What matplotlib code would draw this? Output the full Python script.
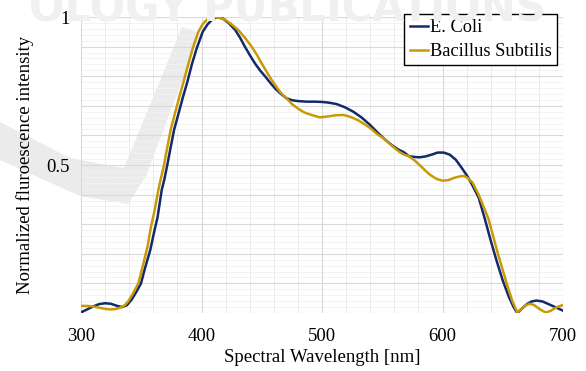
import matplotlib
matplotlib.use('Agg')
import matplotlib.pyplot as plt
from matplotlib.patches import Polygon
from matplotlib.ticker import MultipleLocator, FixedLocator

plt.rcParams['font.family'] = ['Liberation Serif', 'DejaVu Serif']

# E. Coli spectrum
wl_ecoli = [300, 305, 310, 315, 320, 325, 330, 334, 338, 342, 346, 349.8, 353,
            357.5, 360.5, 363.6, 367, 369.1, 371.6, 374, 377.2, 381, 384.5,
            388.2, 392, 396, 401, 405, 409, 413, 418, 423, 428, 432, 436, 440,
            444.4, 448.5, 452.7, 457, 461, 466, 470.7, 475, 480, 487, 494, 500,
            505, 512, 519, 526, 533, 540, 546, 552, 558, 563, 568, 572, 577, 581,
            586, 591, 596, 601, 606, 611, 616, 621, 625, 630, 635, 640, 645, 650,
            655, 659, 662, 666, 670, 674, 678, 683, 688, 694, 700]
int_ecoli = [0.002, 0.012, 0.022, 0.030, 0.033, 0.031, 0.024, 0.020, 0.026, 0.045,
             0.072, 0.100, 0.150, 0.213, 0.270, 0.325, 0.416, 0.450, 0.500, 0.551,
             0.618, 0.675, 0.728, 0.780, 0.840, 0.894, 0.950, 0.975, 0.992, 1.000,
             0.994, 0.978, 0.956, 0.930, 0.900, 0.872, 0.843, 0.820, 0.800, 0.778,
             0.759, 0.740, 0.725, 0.719, 0.716, 0.714, 0.714, 0.713, 0.711, 0.706,
             0.695, 0.680, 0.660, 0.635, 0.610, 0.587, 0.567, 0.553, 0.543, 0.530,
             0.527, 0.526, 0.529, 0.535, 0.542, 0.542, 0.535, 0.518, 0.490, 0.460,
             0.430, 0.390, 0.320, 0.245, 0.175, 0.110, 0.055, 0.020, 0.000, 0.015,
             0.030, 0.039, 0.042, 0.039, 0.030, 0.019, 0.008]

# Bacillus Subtilis spectrum
wl_bsub = [300, 305, 310, 315, 320, 324, 328, 332, 336, 339.3, 343, 347.6, 351,
           355.3, 358, 361, 364.2, 366.5, 368.9, 371.2, 374.4, 378, 381.5, 385,
           389, 392.7, 397.4, 401, 405, 410, 415, 420, 425, 430.5, 436, 441.6,
           446, 450, 454, 458.3, 462, 465, 468, 470.7, 475, 480.3, 485, 491.4,
           498, 505, 511, 518, 524, 530, 534, 540, 545, 552, 558, 564, 568, 572,
           577, 581, 586, 590, 595, 600, 605, 610, 615, 618, 621.4, 625, 630, 634,
           638, 642, 646, 650, 654, 658, 662, 666, 669.5, 672.6, 676, 680, 684,
           686.5, 690, 695, 700]
int_bsub = [0.024, 0.024, 0.022, 0.018, 0.014, 0.012, 0.013, 0.017, 0.025, 0.040,
            0.065, 0.100, 0.155, 0.225, 0.290, 0.345, 0.416, 0.458, 0.500, 0.551,
            0.618, 0.675, 0.728, 0.780, 0.840, 0.894, 0.950, 0.976, 0.993, 1.000,
            0.997, 0.990, 0.975, 0.956, 0.930, 0.900, 0.872, 0.843, 0.815, 0.787,
            0.765, 0.748, 0.735, 0.725, 0.706, 0.690, 0.678, 0.669, 0.661, 0.664,
            0.668, 0.669, 0.662, 0.651, 0.641, 0.625, 0.607, 0.587, 0.565, 0.545,
            0.535, 0.530, 0.515, 0.500, 0.480, 0.466, 0.453, 0.447, 0.449, 0.457,
            0.462, 0.463, 0.455, 0.440, 0.400, 0.360, 0.320, 0.260, 0.200, 0.145,
            0.090, 0.040, 0.003, 0.015, 0.027, 0.031, 0.027, 0.015, 0.005, 0.002,
            0.008, 0.020, 0.027]

x_ticks = [300, 400, 500, 600, 700]
y_ticks = [0.5, 1]
y_tick_labels = ['0.5', '1']

W, H = 586, 371
fig = plt.figure(figsize=(W / 100, H / 100), dpi=100)
ax = fig.add_axes([81 / W, 1 - 313 / H, (563 - 81) / W, (313 - 17) / H])
ax.patch.set_alpha(0)

# faint publisher watermark behind the chart
fig.text(0.49, 1 - 21 / H, 'OLOGY PUBLICATIONS', ha='center', va='baseline',
         fontsize=30, fontweight='bold', color='#f0f0f0', family='DejaVu Sans',
         zorder=0)
swoosh_px = [(182, 27), (200, 33), (146, 176), (128, 204), (80, 196), (0, 160),
             (0, 122), (70, 158), (124, 168)]
fig.add_artist(Polygon([(x / W, 1 - y / H) for x, y in swoosh_px], closed=True,
                       transform=fig.transFigure, facecolor='#ebebeb',
                       edgecolor='none', zorder=0))

ax.plot(wl_ecoli, int_ecoli, color='#12296b', lw=1.8, label='E. Coli', zorder=3)
ax.plot(wl_bsub, int_bsub, color='#c99a06', lw=1.8, label='Bacillus Subtilis', zorder=3)

ax.set_xlim(300, 700)
ax.set_ylim(0, 1)
ax.xaxis.set_major_locator(FixedLocator(x_ticks))
ax.xaxis.set_minor_locator(MultipleLocator(20))
ax.yaxis.set_major_locator(FixedLocator(y_ticks))
ax.set_yticklabels(y_tick_labels)

# gridlines: every 0.1 / 100 nm, fainter every 0.02 / 20 nm
for v in [i / 10 for i in range(11)]:
    ax.axhline(v, color='#d9d9d9', lw=0.8, zorder=1)
for v in [i / 50 for i in range(51)]:
    ax.axhline(v, color='#f1f1f1', lw=0.6, zorder=0.5)
for v in range(300, 701, 20):
    ax.axvline(v, color='#ebebeb', lw=0.7, zorder=0.6)
for v in x_ticks:
    ax.axvline(v, color='#d9d9d9', lw=0.8, zorder=1)

for s in ax.spines.values():
    s.set_visible(False)
ax.tick_params(which='both', length=0, labelsize=13.5)
ax.tick_params(axis='x', pad=11)
ax.tick_params(axis='y', pad=8)

ax.set_xlabel('Spectral Wavelength [nm]', fontsize=13.5, labelpad=3)
ax.set_ylabel('Normalized fluroescence intensity', fontsize=13.5, labelpad=9)

leg = ax.legend(loc='upper right', bbox_to_anchor=(557 / W, 1 - 14 / H),
                bbox_transform=fig.transFigure, fontsize=13.2, frameon=True,
                fancybox=False, edgecolor='black', framealpha=1,
                handlelength=1.0, handletextpad=0.1, borderpad=0.3,
                labelspacing=0.35, borderaxespad=0)
leg.get_frame().set_linewidth(1.0)
leg.set_zorder(5)

fig.savefig('out.png', dpi=100)
